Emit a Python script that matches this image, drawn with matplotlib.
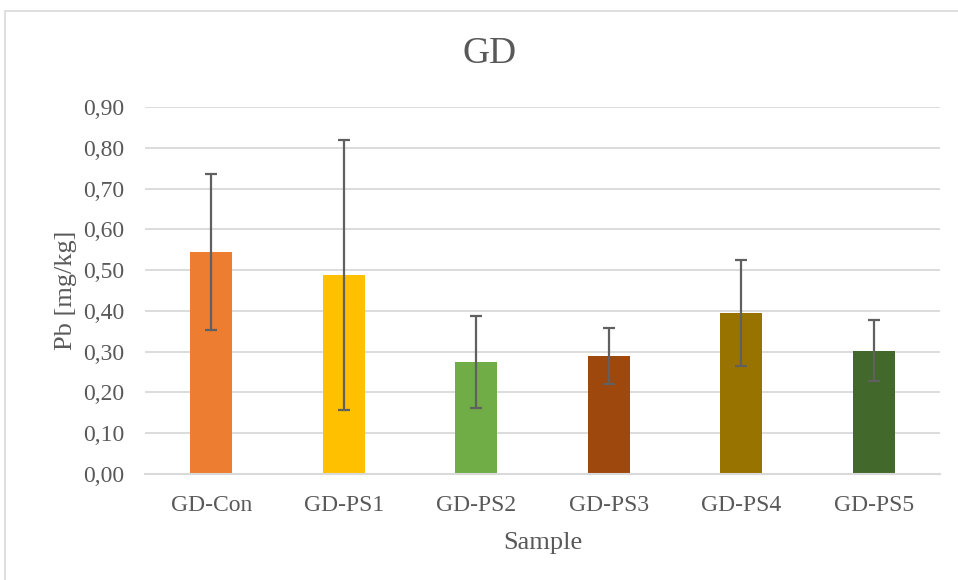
import matplotlib.pyplot as plt
import numpy as np
from matplotlib.patches import Rectangle
from matplotlib.ticker import FuncFormatter

samples = ["GD-Con", "GD-PS1", "GD-PS2", "GD-PS3", "GD-PS4", "GD-PS5"]
pb = [0.544, 0.488, 0.275, 0.289, 0.395, 0.302]
pb_err = [0.191, 0.332, 0.113, 0.069, 0.131, 0.075]
colors = ["#ED7D31", "#FFC000", "#70AD47", "#9E480E", "#997300", "#43682B"]

plt.rcParams['font.family'] = ['Liberation Serif', 'DejaVu Serif']
txt = "#595959"

fig = plt.figure(figsize=(9.58, 5.8), dpi=100)
ax = fig.add_axes([145 / 958, 1 - 474 / 580, 795 / 958, 367 / 580])

# chart border (cut off at right and bottom)
fig.add_artist(Rectangle((5 / 958, -0.1), 1.1, 1 - 11 / 580 + 0.1, transform=fig.transFigure,
                         fill=False, edgecolor="#D9D9D9", linewidth=1.2))

x = np.arange(len(samples))
ax.bar(x, pb, width=0.32, color=colors, zorder=2)
ax.errorbar(x, pb, yerr=pb_err, fmt='none', ecolor="#606060", elinewidth=1.6,
            capsize=4, capthick=1.6, zorder=3)

ax.set_xlim(-0.5, len(samples) - 0.5)
ax.set_ylim(0, 0.9)
ax.set_yticks(np.arange(0, 0.91, 0.1))
ax.yaxis.set_major_formatter(FuncFormatter(lambda v, p: f"{v:.2f}".replace('.', ',')))
ax.set_xticks(x)
ax.set_xticklabels(samples)

ax.grid(axis='y', color="#D9D9D9", linewidth=1.3, zorder=0)
ax.set_axisbelow(True)
for s in ['top', 'right', 'left']:
    ax.spines[s].set_visible(False)
ax.spines['bottom'].set_color("#D9D9D9")
ax.spines['bottom'].set_linewidth(1.5)
ax.tick_params(axis='both', length=0, labelsize=17, colors=txt)
ax.tick_params(axis='y', pad=15)
ax.tick_params(axis='x', pad=15)

fig.text(490 / 958, 1 - 54 / 580, "GD", fontsize=27, color=txt, ha='center', va='center')
ax.set_xlabel("Sample", fontsize=19, color=txt, labelpad=12)
ax.set_ylabel("Pb [mg/kg]", fontsize=19, color=txt, labelpad=4)

fig.savefig("out.png", dpi=100)
